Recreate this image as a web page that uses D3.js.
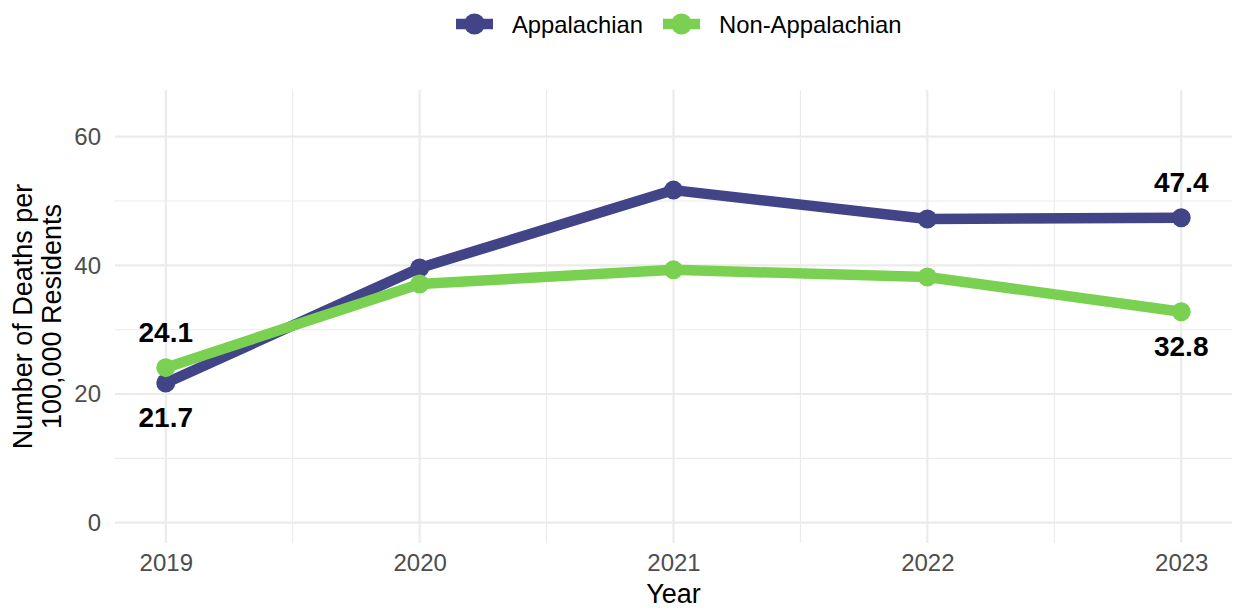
<!DOCTYPE html>
<html>
<head>
<meta charset="utf-8">
<script src="https://cdn.jsdelivr.net/npm/d3@7"></script>
<style>
  body { margin: 0; background: #fff; }
  text { font-family: "Liberation Sans", Arial, sans-serif; }
</style>
</head>
<body>
<svg id="chart" width="1236" height="608"></svg>
<script>
const years = [2019, 2020, 2021, 2022, 2023];
const seriesNames = ["Appalachian", "Non-Appalachian"];
const appalachian = [21.7, 39.6, 51.7, 47.2, 47.4];
const nonAppalachian = [24.1, 37.1, 39.3, 38.2, 32.8];
const yTicks = [0, 20, 40, 60];
const yMinor = [10, 30, 50];
const colors = ["#414487", "#7AD151"];

const svg = d3.select("#chart");
const panel = { left: 115, right: 1232, top: 90, bottom: 543 };

const x = d3.scaleLinear().domain([2018.8, 2023.2]).range([panel.left, panel.right]);
const y = d3.scaleLinear().domain([-3.16, 67.26]).range([panel.bottom, panel.top]);

const grid = svg.append("g");
grid.selectAll(".ymin").data(yMinor).enter().append("line")
  .attr("x1", panel.left).attr("x2", panel.right)
  .attr("y1", d => y(d)).attr("y2", d => y(d))
  .attr("stroke", "#ebebeb").attr("stroke-width", 1.1);
const xMinor = years.slice(0, -1).map(d => d + 0.5);
grid.selectAll(".xmin").data(xMinor).enter().append("line")
  .attr("x1", d => x(d)).attr("x2", d => x(d))
  .attr("y1", panel.top).attr("y2", panel.bottom)
  .attr("stroke", "#ebebeb").attr("stroke-width", 1.1);
grid.selectAll(".ymaj").data(yTicks).enter().append("line")
  .attr("x1", panel.left).attr("x2", panel.right)
  .attr("y1", d => y(d)).attr("y2", d => y(d))
  .attr("stroke", "#ebebeb").attr("stroke-width", 2.2);
grid.selectAll(".xmaj").data(years).enter().append("line")
  .attr("x1", d => x(d)).attr("x2", d => x(d))
  .attr("y1", panel.top).attr("y2", panel.bottom)
  .attr("stroke", "#ebebeb").attr("stroke-width", 2.2);

const yAxis = d3.axisLeft(y).tickValues(yTicks).tickSize(0).tickPadding(0);
const gy = svg.append("g").attr("transform", `translate(${panel.left - 14},0)`).call(yAxis);
gy.select(".domain").remove();
gy.selectAll("text").attr("fill", "#4d4d4d").style("font-size", "24px")
  .style("font-family", "'Liberation Sans', Arial, sans-serif");

const xAxis = d3.axisBottom(x).tickValues(years).tickFormat(d3.format("d")).tickSize(0).tickPadding(0);
const gx = svg.append("g").attr("transform", `translate(0,${panel.bottom + 11})`).call(xAxis);
gx.select(".domain").remove();
gx.selectAll("text").attr("fill", "#4d4d4d").style("font-size", "24px")
  .style("font-family", "'Liberation Sans', Arial, sans-serif");

svg.append("text").attr("x", (panel.left + panel.right) / 2).attr("y", 603)
  .attr("text-anchor", "middle").style("font-size", "27px").attr("fill", "#000").text("Year");
const yt = svg.append("text").attr("transform", `translate(32,${(panel.top + panel.bottom) / 2}) rotate(-90)`)
  .attr("text-anchor", "middle").style("font-size", "27px").attr("fill", "#000");
yt.append("tspan").attr("x", 0).attr("dy", 0).text("Number of Deaths per");
yt.append("tspan").attr("x", 0).attr("dy", 29).text("100,000 Residents");

const data = [appalachian, nonAppalachian];
const line = d3.line().x((d, i) => x(years[i])).y(d => y(d));
data.forEach((vals, s) => {
  svg.append("path").datum(vals).attr("d", line)
    .attr("fill", "none").attr("stroke", colors[s]).attr("stroke-width", 10.5)
    .attr("stroke-linejoin", "round");
  svg.selectAll(".pt" + s).data(vals).enter().append("circle")
    .attr("cx", (d, i) => x(years[i])).attr("cy", d => y(d)).attr("r", 9.5)
    .attr("fill", colors[s]);
});

[0, years.length - 1].forEach(i => {
  const a = appalachian[i], n = nonAppalachian[i];
  [[a, a >= n], [n, n > a]].forEach(([v, above]) => {
    svg.append("text").attr("x", x(years[i])).attr("y", y(v) + (above ? -26 : 44))
      .attr("text-anchor", "middle").style("font-size", "28px").style("font-weight", "bold")
      .attr("fill", "#000").text(v.toFixed(1));
  });
});

const legendItems = [
  { name: seriesNames[0], color: colors[0], kx: 456, tx: 512 },
  { name: seriesNames[1], color: colors[1], kx: 663, tx: 719 }
];
const lg = svg.append("g");
legendItems.forEach(it => {
  lg.append("line").attr("x1", it.kx).attr("x2", it.kx + 37).attr("y1", 24).attr("y2", 24)
    .attr("stroke", it.color).attr("stroke-width", 10.5);
  lg.append("circle").attr("cx", it.kx + 18.5).attr("cy", 24).attr("r", 10.5).attr("fill", it.color);
  lg.append("text").attr("x", it.tx).attr("y", 32.5).style("font-size", "23.8px").attr("fill", "#000").text(it.name);
});
</script>
</body>
</html>
